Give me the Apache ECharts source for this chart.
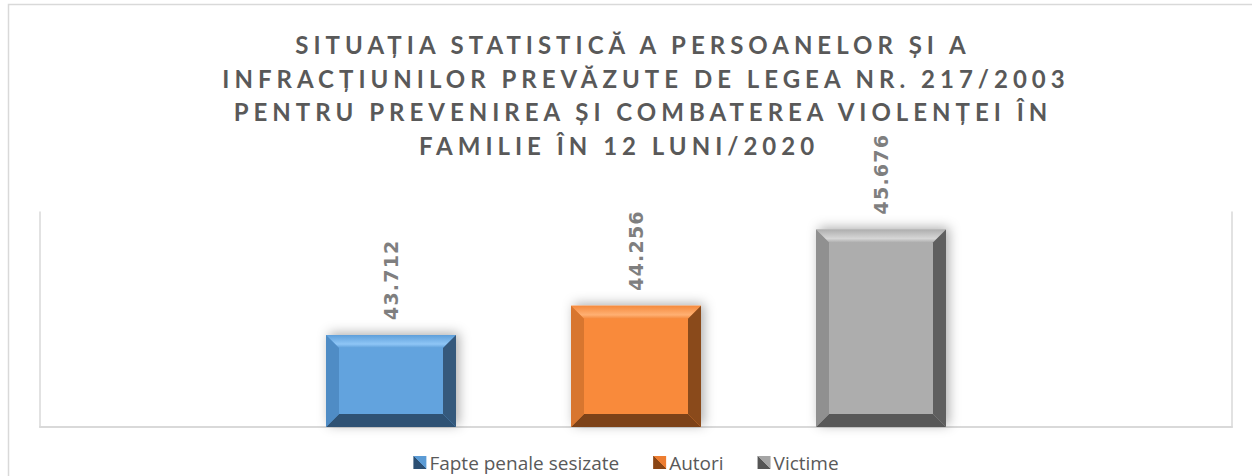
<!DOCTYPE html>
<html>
<head>
<meta charset="utf-8">
<script src="https://cdn.jsdelivr.net/npm/echarts@6/dist/echarts.min.js"></script>
<style>
  html, body { margin: 0; padding: 0; background: #fff; }
  #chart { width: 1252px; height: 476px; }
  svg text[style*="Lato"] { letter-spacing: 5px; }
  svg text[style*="DejaVu"] { letter-spacing: 1.2px; }
</style>
</head>
<body>
<div id="chart"></div>
<script>
// ---- data ----
const titleLines = [
  'SITUAȚIA STATISTICĂ A PERSOANELOR ȘI A',
  'INFRACȚIUNILOR PREVĂZUTE DE LEGEA NR. 217/2003',
  'PENTRU PREVENIREA ȘI COMBATEREA VIOLENȚEI ÎN',
  'FAMILIE ÎN 12 LUNI/2020'
];
const categories = ['12 luni/2020'];
const seriesNames = ['Fapte penale sesizate', 'Autori', 'Victime'];
const faptePenale = [43712];
const autori = [44256];
const victime = [45676];
const yMin = 42000;
const yMax = 46000;

// ---- layout / styles ----
const titleCenters = [[633, 44], [646, 78], [643, 111], [619, 145]];
const palettes = [
  { face: '#62a3de', top0: '#5e9fda', top1: '#8fc6f6', left: '#4f8cc5', right: '#35597c', bottom: '#2f5274', legLight: '#5b9bd5', legDark: '#2c4f73' },
  { face: '#f98a3b', top0: '#f58a3d', top1: '#ffb073', left: '#d8762f', right: '#8a4a1b', bottom: '#7d4218', legLight: '#ed7d31', legDark: '#8a4515' },
  { face: '#adadad', top0: '#aeaeae', top1: '#d6d6d6', left: '#909090', right: '#5f5f5f', bottom: '#585858', legLight: '#a5a5a5', legDark: '#555555' }
];
const BAR_W = 130, BAR_STEP = 245, BEVEL = 13;

function fmt(v) {
  return String(v).replace(/\B(?=(\d{3})+(?!\d))/g, '.');
}

function makeRender(si) {
  const p = palettes[si];
  return function (params, api) {
    const catIdx = api.value(0);
    const val = api.value(1);
    const topPt = api.coord([catIdx, val]);
    const basePt = api.coord([catIdx, yMin]);
    const cx = basePt[0] + (si - 1) * BAR_STEP;
    const x0 = cx - BAR_W / 2, x1 = cx + BAR_W / 2;
    const y0 = topPt[1], y1 = basePt[1];
    const b = BEVEL;
    return {
      type: 'group',
      children: [
        { type: 'rect', shape: { x: x0, y: y0, width: BAR_W, height: y1 - y0 },
          style: { fill: p.face, shadowBlur: 12, shadowColor: 'rgba(0,0,0,0.32)', shadowOffsetX: 3, shadowOffsetY: -2 } },
        { type: 'polygon', shape: { points: [[x0, y0], [x1, y0], [x1 - b, y0 + b], [x0 + b, y0 + b]] },
          style: { fill: new echarts.graphic.LinearGradient(0, 0, 0, 1, [
            { offset: 0, color: p.top0 }, { offset: 0.7, color: p.top1 }, { offset: 1, color: p.top0 }]) } },
        { type: 'polygon', shape: { points: [[x0, y1], [x1, y1], [x1 - b, y1 - b], [x0 + b, y1 - b]] },
          style: { fill: p.bottom } },
        { type: 'polygon', shape: { points: [[x0, y0], [x0 + b, y0 + b], [x0 + b, y1 - b], [x0, y1]] },
          style: { fill: p.left } },
        { type: 'polygon', shape: { points: [[x1, y0], [x1, y1], [x1 - b, y1 - b], [x1 - b, y0 + b]] },
          style: { fill: p.right } },
        { type: 'text', x: cx, y: y0 - 15, rotation: Math.PI / 2,
          style: { text: fmt(val), fill: '#7f7f7f', font: 'bold 19px "DejaVu Sans"', align: 'left', verticalAlign: 'middle' } }
      ]
    };
  };
}

const seriesData = [faptePenale, autori, victime];

const chart = echarts.init(document.getElementById('chart'), null, { renderer: 'svg' });
chart.setOption({
  animation: false,
  backgroundColor: '#ffffff',
  title: titleLines.map((t, i) => ({
    text: t,
    left: titleCenters[i][0],
    top: titleCenters[i][1] - 17,
    padding: 0,
    textAlign: 'center',
    textStyle: { fontFamily: 'Lato', fontSize: 24, fontWeight: 'bold', color: '#595959', lineHeight: 34 }
  })),
  graphic: [
    { type: 'rect', shape: { x: 8.5, y: 4.5, width: 1300, height: 600 }, style: { fill: 'none', stroke: '#d9d9d9', lineWidth: 1.5 }, silent: true }
  ],
  legend: {
    top: 448,
    left: 'center',
    itemWidth: 13,
    itemHeight: 13,
    itemGap: 34,
    icon: 'rect',
    textStyle: { fontFamily: 'Open Sans', fontSize: 19, color: '#595959', padding: [0, 0, 0, -2] },
    data: seriesNames.map((n, i) => ({
      name: n,
      itemStyle: { color: new echarts.graphic.LinearGradient(1, 0, 0, 1, [
        { offset: 0, color: palettes[i].legLight }, { offset: 0.5, color: palettes[i].legLight },
        { offset: 0.5, color: palettes[i].legDark }, { offset: 1, color: palettes[i].legDark }]) }
    }))
  },
  grid: { left: 40, right: 20, top: 212, bottom: 49 },
  xAxis: {
    type: 'category',
    data: categories,
    axisLine: { show: true, lineStyle: { color: '#d9d9d9', width: 2 } },
    axisTick: { show: false },
    axisLabel: { show: false }
  },
  yAxis: [
    { type: 'value', min: yMin, max: yMax, position: 'left',
      axisLine: { show: true, lineStyle: { color: '#d9d9d9', width: 1.5 } },
      axisTick: { show: false }, axisLabel: { show: false }, splitLine: { show: false } },
    { type: 'value', min: yMin, max: yMax, position: 'right',
      axisLine: { show: true, lineStyle: { color: '#d9d9d9', width: 1.5 } },
      axisTick: { show: false }, axisLabel: { show: false }, splitLine: { show: false } }
  ],
  series: seriesNames.map((n, i) => ({
    name: n,
    type: 'custom',
    coordinateSystem: 'cartesian2d',
    yAxisIndex: 0,
    itemStyle: { color: palettes[i].legLight },
    encode: { x: 0, y: 1 },
    renderItem: makeRender(i),
    data: seriesData[i].map((v, k) => [k, v])
  }))
});
</script>
</body>
</html>
